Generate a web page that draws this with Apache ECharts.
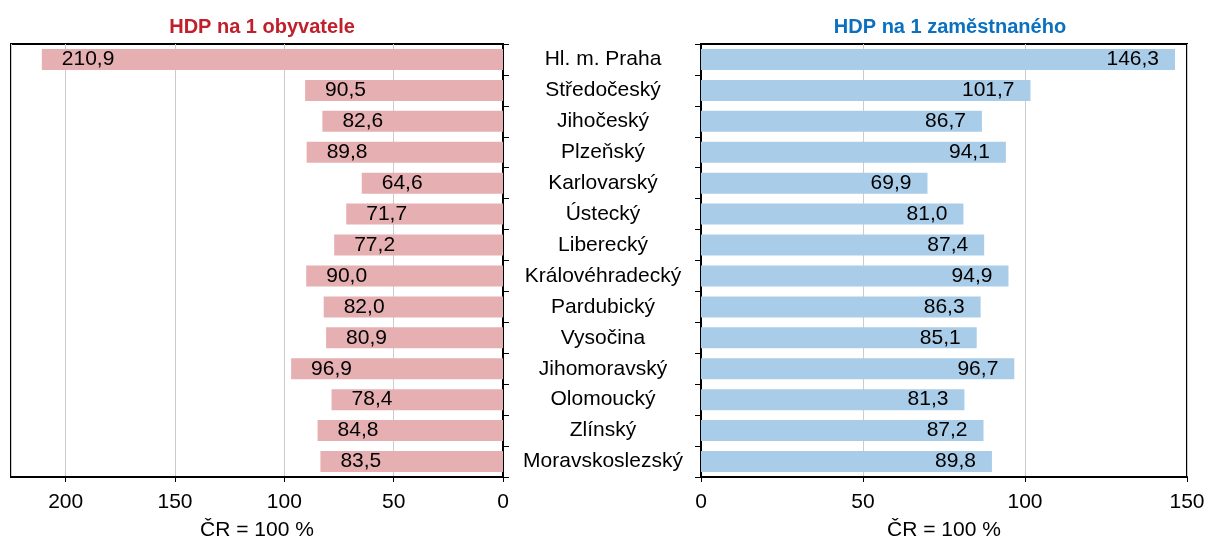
<!DOCTYPE html>
<html>
<head>
<meta charset="utf-8">
<script src="https://cdn.jsdelivr.net/npm/echarts@6/dist/echarts.min.js"></script>
<style>
  html, body { margin: 0; padding: 0; background: #fff; }
  #chart { width: 1209px; height: 539px; }
</style>
</head>
<body>
<div id="chart"></div>
<script>
var regions = ['Hl. m. Praha', 'Středočeský', 'Jihočeský', 'Plzeňský', 'Karlovarský', 'Ústecký',
    'Liberecký', 'Královéhradecký', 'Pardubický', 'Vysočina', 'Jihomoravský', 'Olomoucký',
    'Zlínský', 'Moravskoslezský'];
var perCapita = [210.9, 90.5, 82.6, 89.8, 64.6, 71.7, 77.2, 90.0, 82.0, 80.9, 96.9, 78.4, 84.8, 83.5];
var perWorker = [146.3, 101.7, 86.7, 94.1, 69.9, 81.0, 87.4, 94.9, 86.3, 85.1, 96.7, 81.3, 87.2, 89.8];

var font = 'Liberation Sans';
var fs = 21;
var fmt = function (p) { return p.value.toFixed(1).replace('.', ','); };

var myChart = echarts.init(document.getElementById('chart'));
myChart.setOption({
    animation: false,
    textStyle: { fontFamily: font },
    title: [
        { text: 'HDP na 1 obyvatele', left: 257, top: 12, textAlign: 'center',
          textStyle: { color: '#c0202b', fontSize: 20, fontWeight: 'bold', fontFamily: font } },
        { text: 'HDP na 1 zaměstnaného', left: 945, top: 12, textAlign: 'center',
          textStyle: { color: '#0a70bf', fontSize: 20, fontWeight: 'bold', fontFamily: font } }
    ],
    grid: [
        { left: 11, right: 706, top: 44, bottom: 62, outerBoundsMode: 'none',
          show: true, borderColor: '#000', borderWidth: 2 },
        { left: 701, right: 22, top: 44, bottom: 62, outerBoundsMode: 'none',
          show: true, borderColor: '#000', borderWidth: 2 }
    ],
    xAxis: [
        {
            gridIndex: 0, type: 'value', inverse: true, min: 0, max: 225, interval: 50,
            name: 'ČR = 100 %', nameLocation: 'middle', nameGap: 43,
            nameTextStyle: { color: '#000', fontSize: fs, fontFamily: font },
            axisLine: { show: true, lineStyle: { color: '#000', width: 2 } },
            axisTick: { show: true, length: 5, lineStyle: { color: '#000' } },
            axisLabel: { color: '#000', fontSize: fs, margin: 15, showMaxLabel: false },
            splitLine: { show: true, lineStyle: { color: '#cccccc', width: 1 } }
        },
        {
            gridIndex: 1, type: 'value', min: 0, max: 150, interval: 50,
            name: 'ČR = 100 %', nameLocation: 'middle', nameGap: 43,
            nameTextStyle: { color: '#000', fontSize: fs, fontFamily: font },
            axisLine: { show: true, lineStyle: { color: '#000', width: 2 } },
            axisTick: { show: true, length: 5, lineStyle: { color: '#000' } },
            axisLabel: { color: '#000', fontSize: fs, margin: 15 },
            splitLine: { show: true, lineStyle: { color: '#cccccc', width: 1 } }
        }
    ],
    yAxis: [
        {
            gridIndex: 0, type: 'category', data: regions, inverse: true, position: 'right',
            axisLine: { show: true, lineStyle: { color: '#000', width: 2 } },
            axisTick: { show: true, length: 6, lineStyle: { color: '#000' } },
            axisLabel: { show: false }
        },
        {
            gridIndex: 1, type: 'category', data: regions, inverse: true, position: 'left',
            axisLine: { show: true, lineStyle: { color: '#000', width: 2 } },
            axisTick: { show: true, length: 6, lineStyle: { color: '#000' } },
            axisLabel: { color: '#000', fontSize: fs, align: 'center', margin: 98 }
        }
    ],
    series: [
        {
            type: 'bar', xAxisIndex: 0, yAxisIndex: 0, data: perCapita,
            barCategoryGap: '32%',
            itemStyle: { color: '#e6b0b3' },
            label: { show: true, position: 'insideLeft', distance: 20, color: '#000',
                     fontSize: fs, formatter: fmt }
        },
        {
            type: 'bar', xAxisIndex: 1, yAxisIndex: 1, data: perWorker,
            barCategoryGap: '32%',
            itemStyle: { color: '#a9cde8' },
            label: { show: true, position: 'insideRight', distance: 16, color: '#000',
                     fontSize: fs, formatter: fmt }
        }
    ]
});
</script>
</body>
</html>
